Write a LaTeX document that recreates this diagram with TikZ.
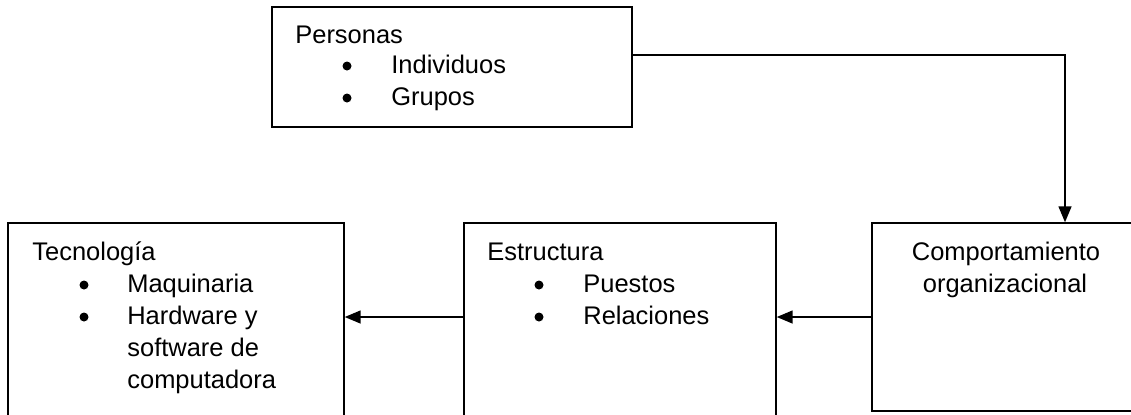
\documentclass[tikz,border=0pt]{standalone}
\usepackage{fontspec}
\setmainfont{Liberation Sans}
\usetikzlibrary{arrows.meta}

\tikzset{
  caja/.style={draw, line width=0.85pt, inner sep=0pt},
  texto/.style={anchor=base west, inner sep=0pt, font=\fontsize{14.5pt}{18pt}\selectfont},
  punto/.style={circle, fill, inner sep=0pt, minimum size=0.18cm},
  flecha/.style={line width=0.85pt, -{Triangle[length=0.32cm, width=0.26cm]}}
}

\begin{document}
\begin{tikzpicture}[x=0.02cm, y=-0.02cm]
  \clip (0,0) rectangle (1131,414);

  % cajas
  \node[caja, minimum width=7.2cm, minimum height=2.4cm] (personas) at (452,67) {};
  \node[caja, minimum width=6.72cm, minimum height=4.56cm] (tecnologia) at (176,337) {};
  \node[caja, minimum width=6.24cm, minimum height=4.56cm] (estructura) at (620,337) {};
  \node[caja, minimum width=5.36cm, minimum height=3.76cm] (comport) at (1006,317) {};

  % Personas
  \node[texto] (personas-t) at (295,43) {Personas};
  \foreach \txt [count=\i] in {Individuos, Grupos}{
    \node[punto] (personas-p\i) at (347,34+32*\i) {};
    \node[texto] (personas-\i) at (391,41+32*\i) {\txt};
  }

  % Tecnologia
  \node[texto] (tecnologia-t) at (32,260) {Tecnología};
  \foreach \txt [count=\i] in {Maquinaria, Hardware y}{
    \node[punto] (tecnologia-p\i) at (84,253+32*\i) {};
    \node[texto] (tecnologia-\i) at (127,260+32*\i) {\txt};
  }
  \node[texto] (tecnologia-3) at (127,356) {software de};
  \node[texto] (tecnologia-4) at (127,388) {computadora};

  % Estructura
  \node[texto] (estructura-t) at (487,260) {Estructura};
  \foreach \txt [count=\i] in {Puestos, Relaciones}{
    \node[punto] (estructura-p\i) at (539,253+32*\i) {};
    \node[texto] (estructura-\i) at (583,260+32*\i) {\txt};
  }

  % Comportamiento
  \node[texto, anchor=base] (comport-1) at (1006,260) {Comportamiento};
  \node[texto, anchor=base] (comport-2) at (1005,292) {organizacional};

  % flechas
  \coordinate (codo) at (1065,55);
  \draw[flecha] (personas.east |- codo) -- (codo) -- (codo |- comport.north);
  \draw[flecha] (comport.west) -- (estructura.east |- comport.west);
  \draw[flecha] (estructura.west |- comport.west) -- (tecnologia.east |- comport.west);
\end{tikzpicture}
\end{document}
